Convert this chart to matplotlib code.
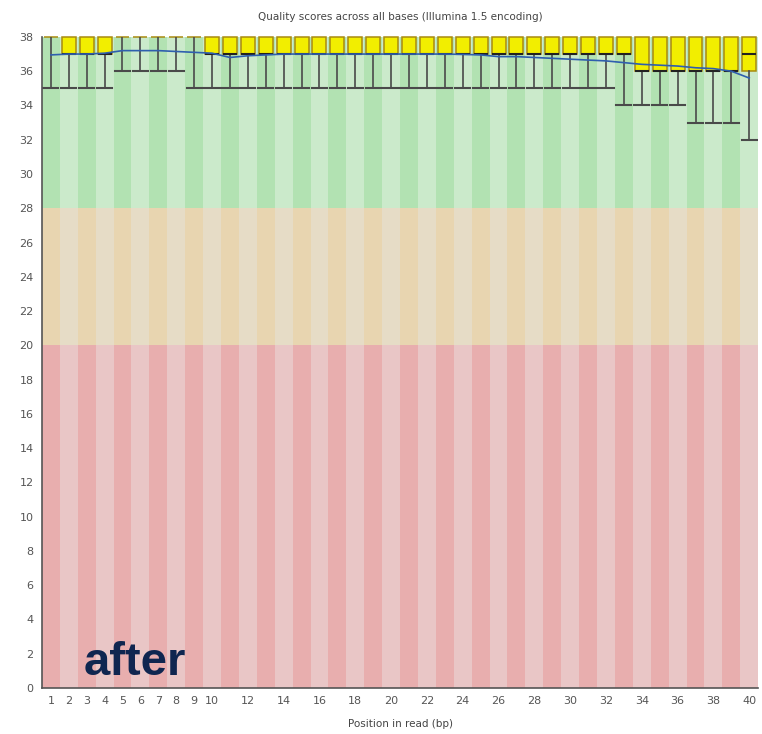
import numpy as np
import matplotlib.pyplot as plt

# Per-position quality summary
positions = np.arange(1, 41)
q3 = [38] * 40
q1 = [38] + [37] * 3 + [38] * 5 + [37] * 24 + [36] * 7
medians = [38] + [37] * 3 + [38] * 5 + [37] * 24 + [36] * 6 + [37]
whis_lo = [35] * 4 + [36] * 4 + [35] * 24 + [34] * 4 + [33] * 3 + [32]
whis_hi = [38] * 40
means = [36.95, 37.0, 37.0, 37.05, 37.2, 37.2, 37.2, 37.15, 37.1, 37.05,
         36.8, 36.9, 36.95, 37.0, 37.0, 37.0, 37.0, 37.0, 37.0, 37.0,
         37.0, 37.0, 37.0, 36.98, 36.95, 36.85, 36.85, 36.8, 36.75, 36.7,
         36.65, 36.6, 36.5, 36.4, 36.35, 36.3, 36.2, 36.15, 36.0, 35.6]

xtick_labels = [str(i) for i in range(1, 11)] + [str(i) for i in range(12, 41, 2)]
xtick_pos = [int(s) for s in xtick_labels]

# quality bands (bottom, top, dark stripe, light stripe)
bands = [(28, 38, '#b2e2b2', '#cbeacb'),
         (20, 28, '#e8d5b0', '#e6dcc6'),
         (0, 20, '#e8aeae', '#e9c6c6')]

fig = plt.figure(figsize=(7.62, 7.34), dpi=100)
ax = fig.add_axes([0.055, 0.0627, 0.94, 0.887])

for lo, hi, dark, light in bands:
    cols = [dark if p % 2 == 1 else light for p in positions]
    ax.bar(positions, hi - lo, bottom=lo, width=1.0, color=cols,
           linewidth=0, zorder=0)

stats = []
for i in range(len(positions)):
    stats.append(dict(med=medians[i], q1=q1[i], q3=q3[i],
                      whislo=whis_lo[i], whishi=whis_hi[i]))

art = ax.bxp(stats, positions=positions, widths=0.78, capwidths=0.85,
             showfliers=False, patch_artist=True, manage_ticks=False,
             boxprops=dict(facecolor='#f2ee00', edgecolor='#a88a10', linewidth=1.1),
             whiskerprops=dict(color='#4a4a4a', linewidth=1.2),
             capprops=dict(color='#4a4a4a', linewidth=1.5),
             medianprops=dict(color='#222222', linewidth=1.5))
for b in art['boxes']:
    b.set_clip_on(False)
for c in art['caps'][1::2]:
    c.set_visible(False)
# collapsed boxes: no visible median line
for i, m in enumerate(art['medians']):
    if q1[i] == q3[i]:
        m.set_visible(False)

ax.plot(positions, means, color='#2f5fae', linewidth=1.2, zorder=5)

ax.set_xlim(0.5, 40.5)
ax.set_ylim(0, 38)
ax.set_yticks(range(0, 39, 2))
ax.set_xticks(xtick_pos)
ax.set_xticklabels(xtick_labels)
ax.tick_params(length=0, labelsize=8, colors='#555555', pad=6)
for s in ['top', 'right']:
    ax.spines[s].set_visible(False)
for s in ['left', 'bottom']:
    ax.spines[s].set_color('#555555')
    ax.spines[s].set_linewidth(1.2)

fig.text(0.525, 0.977, 'Quality scores across all bases (Illumina 1.5 encoding)',
         ha='center', va='center', fontsize=7.5, color='#444444')
fig.text(0.525, 0.014, 'Position in read (bp)', ha='center', va='center',
         fontsize=7.5, color='#444444')

ax.text(2.85, 0.75, 'after', fontsize=34, fontweight='bold', color='#0f2650',
        family='Liberation Sans', zorder=6)

fig.savefig('out.png', dpi=100)
